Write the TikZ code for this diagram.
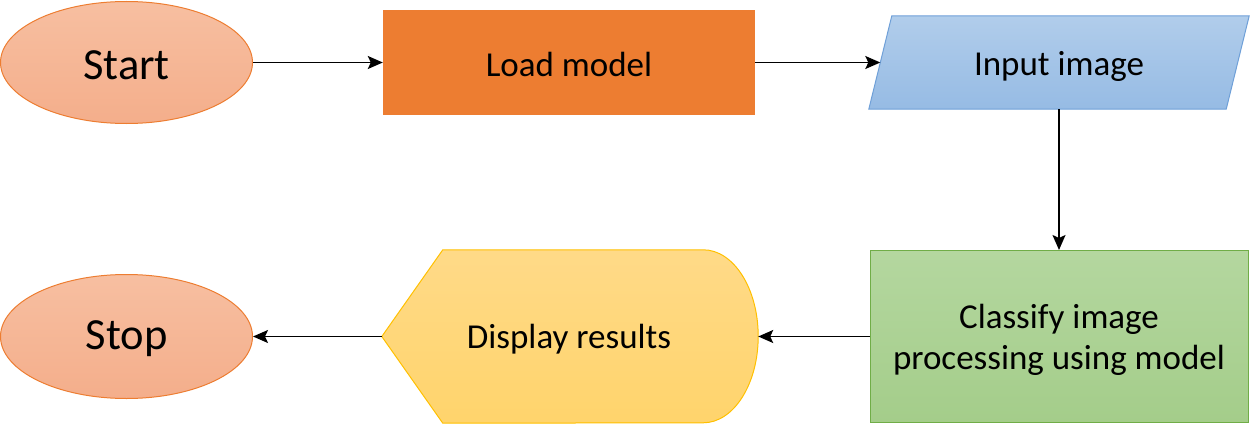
\documentclass[tikz,border=0pt]{standalone}
\usepackage{fontspec}
\setmainfont{Carlito}
\usetikzlibrary{shapes.geometric,arrows.meta}
\definecolor{termfillT}{HTML}{F7BFA1}
\definecolor{termfillB}{HTML}{F4AE8B}
\definecolor{termline}{HTML}{ED7D31}
\definecolor{loadfill}{HTML}{ED7D31}
\definecolor{infillT}{HTML}{B1CDEB}
\definecolor{infillB}{HTML}{96BBE4}
\definecolor{inline}{HTML}{6FA0D8}
\definecolor{clfillT}{HTML}{B4D79F}
\definecolor{clfillB}{HTML}{A4CD8A}
\definecolor{clline}{HTML}{70AD47}
\definecolor{dpfillT}{HTML}{FFDA88}
\definecolor{dpfillB}{HTML}{FFD46C}
\definecolor{dpline}{HTML}{FFC000}
\tikzset{
  term/.style={ellipse, draw=termline, line width=1pt, top color=termfillT, bottom color=termfillB,
    minimum width=252pt, minimum height=122pt, inner sep=0pt},
  termtext/.style={font=\fontsize{44.5}{52}\selectfont, inner sep=0pt},
  procbox/.style={rectangle, fill=loadfill, minimum width=372pt, minimum height=105pt, inner sep=0pt},
  ghost/.style={rectangle, inner sep=0pt},
  bodytext/.style={inner sep=0pt, align=center, font=\fontsize{35}{41}\selectfont},
  classbox/.style={rectangle, draw=clline, line width=1pt, top color=clfillT, bottom color=clfillB,
    minimum width=378pt, minimum height=172pt, inner sep=0pt},
  conn/.style={line width=1.6pt, -{Stealth[length=15pt,width=13pt,inset=3pt]}},
}
\begin{document}
\begin{tikzpicture}[x=1pt,y=1pt]
\useasboundingbox (0,0) rectangle (1250,424);
% nodes
\node[term] (start) at (126.5,361.5) {};
\node[procbox] (load) at (569,361.5) {};
\node[ghost, minimum width=357pt, minimum height=93pt] (input) at (1059,361.5) {};
\node[classbox] (classify) at (1059,87.5) {};
\node[ghost, minimum width=376pt, minimum height=173pt] (display) at (570,87.5) {};
\node[term, minimum height=124pt] (stop) at (126.5,87.5) {};
% parallelogram for input
\draw[draw=inline, line width=1pt, top color=infillT, bottom color=infillB]
  ([xshift=11.5pt]input.north west) -- ([xshift=11.5pt]input.north east)
  -- ([xshift=-11.5pt]input.south east) -- ([xshift=-11.5pt]input.south west) -- cycle;
% display shape
\draw[draw=dpline, line width=1pt, top color=dpfillT, bottom color=dpfillB]
  (display.west) -- ([xshift=61pt]display.north west) -- ([xshift=-55pt]display.north east)
  arc[start angle=90, end angle=-90, x radius=55pt, y radius=86.5pt]
  -- ([xshift=61pt]display.south west) -- cycle;
% labels
\node[termtext] (startlabel) at ([yshift=-3pt]start.center) {Start};
\node[termtext] (stoplabel) at ([yshift=-2pt]stop.center) {Stop};
\node[bodytext] (loadlabel) at ([yshift=-2pt]load.center) {Load model};
\node[bodytext] (inputlabel) at ([yshift=-4pt]input.center) {Input image};
\node[bodytext] (displaylabel) at ([xshift=-1pt,yshift=-3pt]display.center) {Display results};
\node[bodytext] (classlabel) at ([yshift=-3pt]classify.center) {Classify image\\processing using model};
% connectors
\draw[conn] (start.east) -- (load.west);
\draw[conn] (load.east) -- (input.west);
\draw[conn] (input.south) -- (classify.north);
\draw[conn] (classify.west) -- (display.east);
\draw[conn] (display.west) -- (stop.east);
\end{tikzpicture}
\end{document}
